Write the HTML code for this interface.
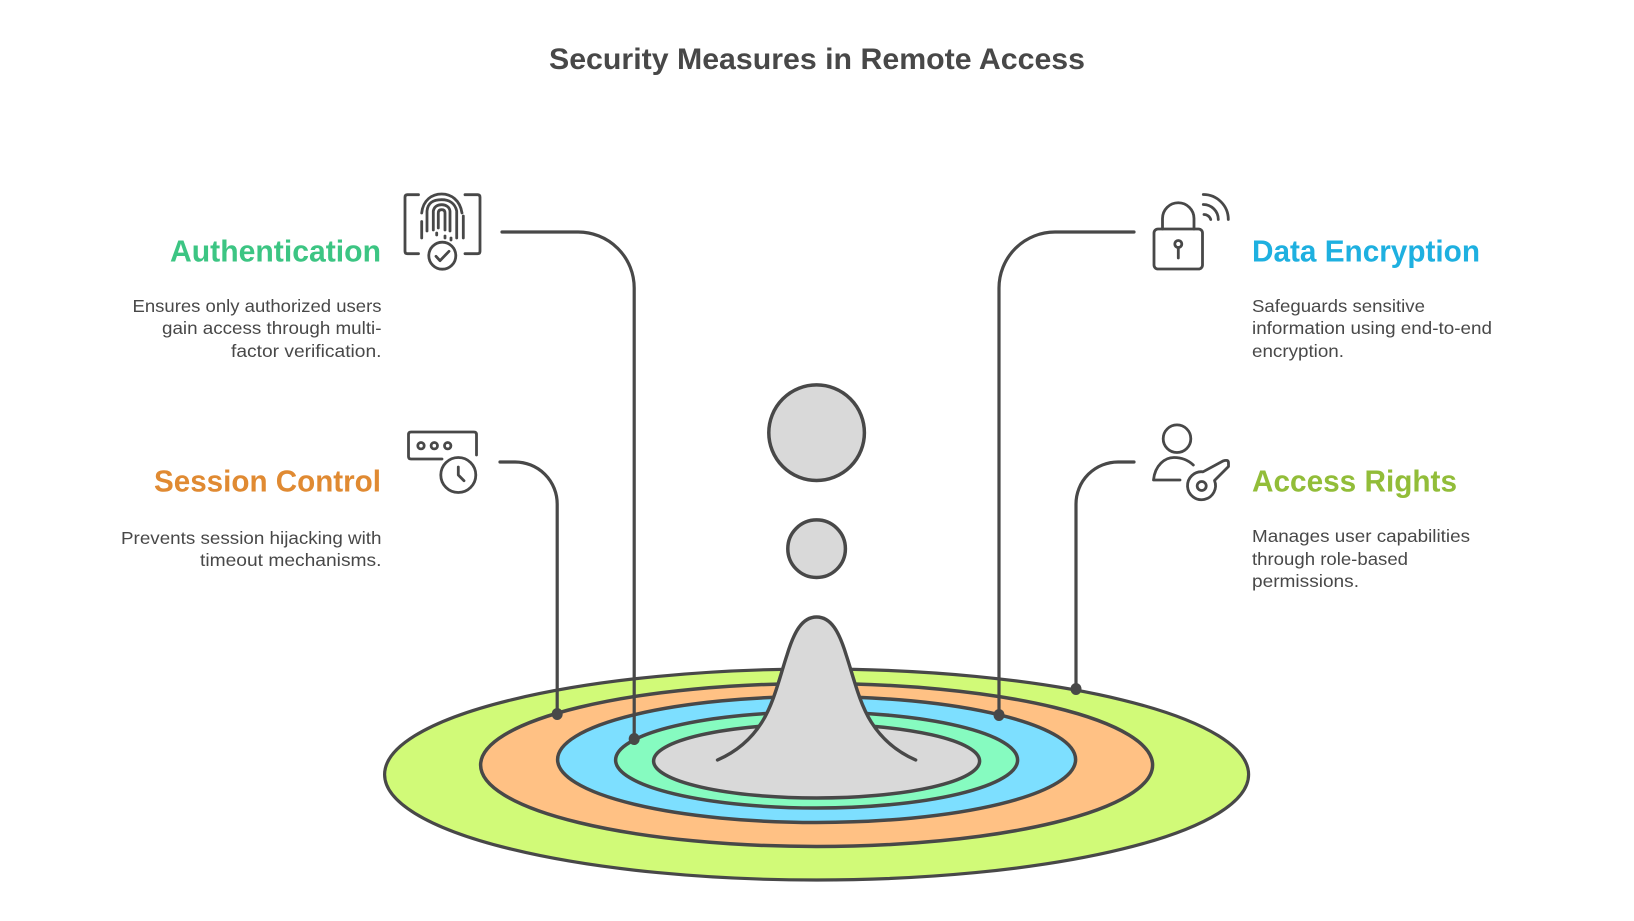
<!DOCTYPE html>
<html><head><meta charset="utf-8"><style>
html,body{margin:0;padding:0;background:#fff}
svg{display:block}
text{font-family:"Liberation Sans",sans-serif}
.t{font-size:17.5px;fill:#484848}
.h{font-size:31px;font-weight:700}
.s{fill:none;stroke:#484848;stroke-linecap:round;stroke-linejoin:round}
</style></head><body>
<svg width="1634" height="921" viewBox="0 0 1634 921" xmlns="http://www.w3.org/2000/svg">
<rect width="1634" height="921" fill="#fff"/>
<text x="549" y="69" font-size="29.5" font-weight="700" fill="#484848" textLength="536" lengthAdjust="spacingAndGlyphs">Security Measures in Remote Access</text>

<g stroke="#484848" stroke-width="3.5">
<ellipse cx="816.6" cy="774.5" rx="432" ry="105.5" fill="#d1fa78" stroke-width="3.2"/>
<ellipse cx="816.6" cy="765" rx="336" ry="81.5" fill="#ffc184"/>
<ellipse cx="816.6" cy="759.5" rx="259" ry="63" fill="#7ddfff"/>
<ellipse cx="816.6" cy="760" rx="201" ry="48" fill="#86fbc0"/>
<ellipse cx="816.6" cy="761" rx="163" ry="37" fill="#d9d9d9"/>
<circle cx="816.6" cy="432.7" r="47.8" fill="#d9d9d9"/>
<circle cx="816.6" cy="548.7" r="28.8" fill="#d9d9d9"/>
</g>
<path d="M717.5 760C738 751 752 738 762 722C774 703 780 676 787 655C794 632 802 617 816.6 617C831.2 617 839.2 632 846.2 655C853.2 676 859.2 703 871.2 722C881.2 738 895.2 751 915.7 760Z" fill="#d9d9d9"/>
<path d="M717.5 760C738 751 752 738 762 722C774 703 780 676 787 655C794 632 802 617 816.6 617C831.2 617 839.2 632 846.2 655C853.2 676 859.2 703 871.2 722C881.2 738 895.2 751 915.7 760" class="s" stroke-width="3.4"/>

<g class="s" stroke-width="3.2">
<path d="M502 232H578A56 56 0 0 1 634.200 288V739"/>
<path d="M500 462H515A42 42 0 0 1 557.200 504V714"/>
<path d="M1134 232H1055A56 56 0 0 0 999 288V715"/>
<path d="M1134 462H1118A42 42 0 0 0 1076 504V689"/>
</g>
<g fill="#484848">
<ellipse cx="634.200" cy="739" rx="5.500" ry="6"/>
<ellipse cx="557.200" cy="714" rx="5.500" ry="6"/>
<ellipse cx="999" cy="715" rx="5.500" ry="6"/>
<ellipse cx="1076" cy="689" rx="5.500" ry="6"/>
</g>

<!-- Fingerprint -->
<g class="s" stroke-width="2.800">
<path d="M418.500 194.700H407.500Q405 194.700 405 197.200V251.200Q405 253.700 407.500 253.700H418.500"/>
<path d="M465 194.700H477.500Q480 194.700 480 197.200V251.200Q480 253.700 477.500 253.700H465"/>
<circle cx="442.300" cy="255.700" r="13.500"/>
<path d="M436 256.300L440 260.700L449 251.300"/>
<path d="M421.700 221.500V238"/>
<path d="M421.700 213C423 200 432 194 441.700 194C451 194 460 200 462 213"/>
<path d="M463.300 216V238"/>
<path d="M427 231V211C428 202 434 199.700 441.700 199.700C449 199.700 455 203 456.700 211V238"/>
<path d="M433.300 230V211C434 207 437 204.700 441.700 204.700C446 204.700 449.500 207 450 211V231"/>
<path d="M438.300 228V213Q438.300 209.700 441.700 209.700Q445 209.700 445 213V230"/>
<path d="M436.700 233V235"/><path d="M445 236V238"/><path d="M451 238V240"/>
</g>

<!-- Session -->
<g class="s" stroke-width="2.800">
<path d="M442 459H411Q408.500 459 408.500 456.500V434.500Q408.500 432 411 432H474Q476.500 432 476.500 434.500V455"/>
<circle cx="421" cy="445.700" r="3.200"/><circle cx="434.300" cy="445.700" r="3.200"/><circle cx="447.700" cy="445.700" r="3.200"/>
<circle cx="458.300" cy="475" r="17.500"/>
<path d="M458.300 467V475L464 480.700"/>
</g>

<!-- Lock -->
<g class="s" stroke-width="2.800">
<rect x="1154" y="229" width="48.500" height="40" rx="4"/>
<path d="M1162.500 229V218.500A15.700 15.700 0 0 1 1194 218.500V229"/>
<circle cx="1178.300" cy="244" r="3.500"/>
<path d="M1178.300 247.500V258"/>
<path d="M1203.300 194.500A25 25 0 0 1 1228.300 219.500"/>
<path d="M1203.300 204.500A15 15 0 0 1 1218.300 219.500"/>
<path d="M1204 214.500A7 7 0 0 1 1210.700 219.500"/>
</g>

<!-- Person key -->
<g class="s" stroke-width="2.800">
<circle cx="1177" cy="438.700" r="13.800"/>
<path d="M1180 480H1153.500C1155 465 1165 457.500 1174 457.500C1182 457.500 1188 460 1193.300 465"/>
<path d="M1203 471.800L1223 461Q1228.500 459 1228.500 463V466.500L1214.500 480.500A14 14 0 1 1 1203 471.800Z"/>
<circle cx="1201.700" cy="486" r="4.500"/>
</g>

<text x="170" y="261.500" class="h" fill="#3cc583" textLength="211" lengthAdjust="spacingAndGlyphs">Authentication</text>
<text x="154" y="491.500" class="h" fill="#e08a32" textLength="227" lengthAdjust="spacingAndGlyphs">Session Control</text>
<text x="1252" y="261.500" class="h" fill="#1eb0e0" textLength="228" lengthAdjust="spacingAndGlyphs">Data Encryption</text>
<text x="1252" y="491.500" class="h" fill="#92bd39" textLength="205" lengthAdjust="spacingAndGlyphs">Access Rights</text>

<text x="132.500" y="312" class="t" textLength="249" lengthAdjust="spacingAndGlyphs">Ensures only authorized users</text>
<text x="162" y="334" class="t" textLength="219.500" lengthAdjust="spacingAndGlyphs">gain access through multi-</text>
<text x="231" y="357" class="t" textLength="150.500" lengthAdjust="spacingAndGlyphs">factor verification.</text>
<text x="121" y="544" class="t" textLength="260.500" lengthAdjust="spacingAndGlyphs">Prevents session hijacking with</text>
<text x="200" y="566" class="t" textLength="181.500" lengthAdjust="spacingAndGlyphs">timeout mechanisms.</text>
<text x="1252" y="312" class="t" textLength="173" lengthAdjust="spacingAndGlyphs">Safeguards sensitive</text>
<text x="1252" y="334" class="t" textLength="240" lengthAdjust="spacingAndGlyphs">information using end-to-end</text>
<text x="1252" y="357" class="t" textLength="92" lengthAdjust="spacingAndGlyphs">encryption.</text>
<text x="1252" y="542" class="t" textLength="218" lengthAdjust="spacingAndGlyphs">Manages user capabilities</text>
<text x="1252" y="565" class="t" textLength="156" lengthAdjust="spacingAndGlyphs">through role-based</text>
<text x="1252" y="587" class="t" textLength="107" lengthAdjust="spacingAndGlyphs">permissions.</text>
</svg>
</body></html>
